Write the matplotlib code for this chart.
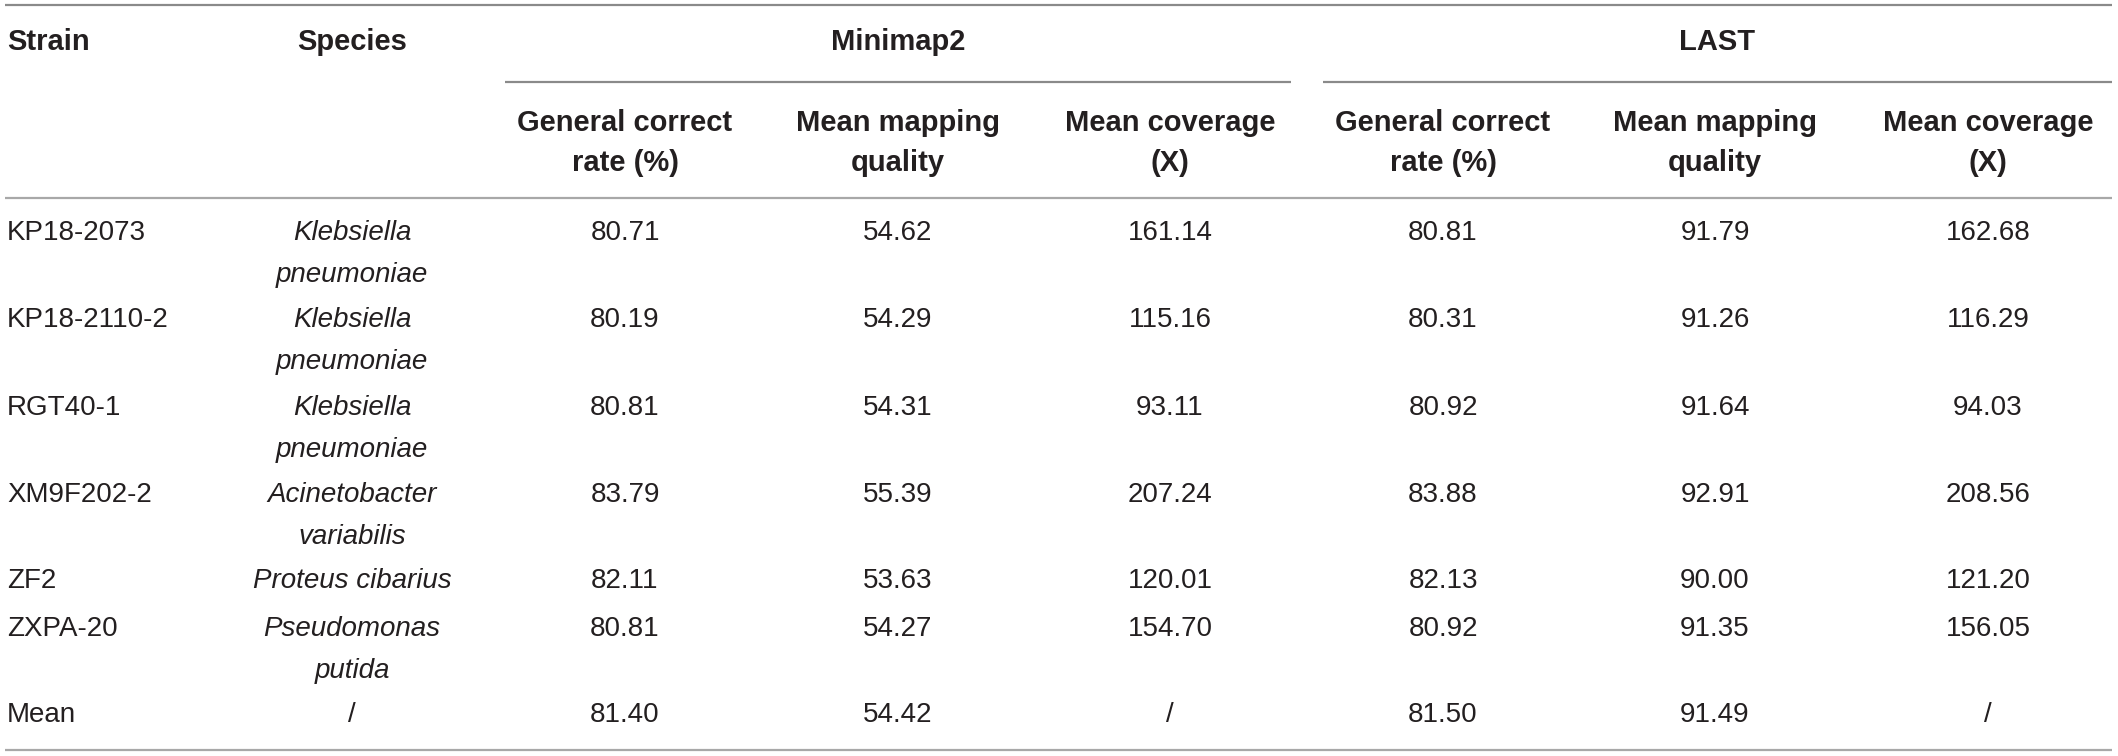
import matplotlib.pyplot as plt

plt.rcParams['font.family'] = ['Liberation Sans', 'DejaVu Sans']

# --- table data ---
strains = ['KP18-2073', 'KP18-2110-2', 'RGT40-1', 'XM9F202-2', 'ZF2', 'ZXPA-20', 'Mean']
species = ['Klebsiella\npneumoniae', 'Klebsiella\npneumoniae', 'Klebsiella\npneumoniae',
           'Acinetobacter\nvariabilis', 'Proteus cibarius', 'Pseudomonas\nputida', '/']
mm2_correct = ['80.71', '80.19', '80.81', '83.79', '82.11', '80.81', '81.40']
mm2_mapq = ['54.62', '54.29', '54.31', '55.39', '53.63', '54.27', '54.42']
mm2_cov = ['161.14', '115.16', '93.11', '207.24', '120.01', '154.70', '/']
last_correct = ['80.81', '80.31', '80.92', '83.88', '82.13', '80.92', '81.50']
last_mapq = ['91.79', '91.26', '91.64', '92.91', '90.00', '91.35', '91.49']
last_cov = ['162.68', '116.29', '94.03', '208.56', '121.20', '156.05', '/']

groups = ['Minimap2', 'LAST']
sub_headers = ['General correct\nrate (%)', 'Mean mapping\nquality', 'Mean coverage\n(X)']

# --- layout (pixel coordinates) ---
W, H = 2118, 756
TEXT = '#231f20'
DARK_LINE = '#8a8a8a'
LIGHT_LINE = '#a8a8a8'
FS = 20
FS_HEAD = 21
LINE_GAP = 42

strain_x = 7
species_x = 352
col_x = [625, 898, 1170, 1443, 1715, 1988]
row_y = [233, 320, 408, 495, 581, 629, 715]

fig = plt.figure(figsize=(W / 100, H / 100), dpi=100)
ax = fig.add_axes([0, 0, 1, 1])
ax.set_xlim(0, W)
ax.set_ylim(H, 0)
ax.axis('off')


def put(x, y, s, ha='center', fs=FS, gap=LINE_GAP, **kw):
    # multi-line cells are drawn line by line so the spacing can be set
    for i, line in enumerate(s.split('\n')):
        ax.text(x, y + i * gap, line, ha=ha, va='center', fontsize=fs,
                color=TEXT, **kw)


# rules
ax.plot([5, 2112], [5, 5], color=DARK_LINE, lw=1.6, solid_capstyle='butt')
ax.plot([505, 1291], [82, 82], color=DARK_LINE, lw=1.6, solid_capstyle='butt')
ax.plot([1323, 2112], [82, 82], color=DARK_LINE, lw=1.6, solid_capstyle='butt')
ax.plot([5, 2112], [198, 198], color=LIGHT_LINE, lw=1.6, solid_capstyle='butt')
ax.plot([5, 2112], [750, 750], color=LIGHT_LINE, lw=1.6, solid_capstyle='butt')

# header
put(strain_x, 42, 'Strain', ha='left', fs=FS_HEAD, weight='bold')
put(species_x, 42, 'Species', fs=FS_HEAD, weight='bold')
put((505 + 1291) / 2, 42, groups[0], fs=FS_HEAD, weight='bold')
put((1323 + 2112) / 2, 42, groups[1], fs=FS_HEAD, weight='bold')
for i, h in enumerate(sub_headers * 2):
    put(col_x[i], 123, h, fs=FS_HEAD, gap=40, weight='bold')

# body
columns = [mm2_correct, mm2_mapq, mm2_cov, last_correct, last_mapq, last_cov]
for r, y in enumerate(row_y):
    put(strain_x, y, strains[r], ha='left')
    put(species_x, y, species[r], style='italic' if species[r] != '/' else 'normal')
    for c, vals in enumerate(columns):
        put(col_x[c], y, vals[r])

fig.savefig('out.png', dpi=100, facecolor='white')
